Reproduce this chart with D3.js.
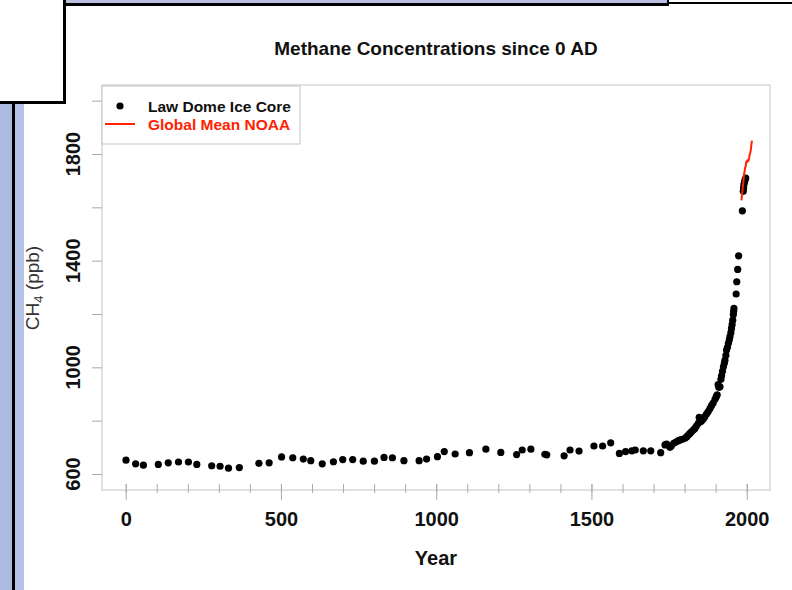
<!DOCTYPE html>
<html>
<head>
<meta charset="utf-8">
<script src="https://cdn.jsdelivr.net/npm/d3@7"></script>
<style>
  body { margin: 0; background: #fff; }
  svg { display: block; font-family: "Liberation Sans", Arial, sans-serif; }
</style>
</head>
<body>
<div id="chart"></div>
<script>
// Law Dome ice core (years AD, CH4 ppb)
const lawDomeYear = [1, 32, 57, 105, 137, 170, 202, 229, 277, 304, 331, 366, 429, 462, 502, 538, 572, 596, 633, 669,
  699, 731, 765, 801, 832, 859, 896, 945, 969, 1004, 1026, 1061, 1107, 1160, 1208, 1259, 1277, 1305, 1350, 1356,
  1412, 1431, 1460, 1508, 1536, 1562, 1590, 1610, 1630, 1641, 1667, 1691, 1723,
  1737, 1742, 1753, 1757, 1765, 1772, 1780, 1786, 1793, 1801, 1807, 1812, 1817, 1822, 1828, 1833, 1838, 1844, 1847,
  1850, 1855, 1860, 1865, 1871, 1876, 1882, 1887, 1892, 1898, 1902, 1905, 1908, 1910, 1914, 1917, 1919, 1922, 1925,
  1928, 1930, 1933, 1935, 1938, 1941, 1944, 1946, 1949, 1951, 1953, 1955, 1957, 1958, 1959, 1966, 1968, 1971, 1974,
  1986, 1989, 1990, 1991, 1993, 1995, 1997];
const lawDomeCH4 = [652, 638, 633, 636, 642, 645, 645, 636, 631, 629, 622, 624, 640, 642, 664, 661, 656, 650, 638, 646,
  654, 654, 648, 648, 662, 661, 650, 650, 656, 665, 684, 675, 680, 693, 681, 673, 690, 693, 674, 672,
  668, 690, 686, 705, 705, 717, 677, 684, 687, 690, 687, 687, 680,
  709, 712, 700, 705, 715, 720, 725, 728, 730, 734, 740, 746, 752, 758, 765, 771, 780, 790, 812,
  795, 800, 806, 815, 826, 834, 846, 857, 866, 880, 890, 897, 935, 925, 927, 955, 968, 985, 1002,
  1015, 1027, 1045, 1065, 1075, 1090, 1103, 1115, 1130, 1146, 1160, 1177, 1198, 1210, 1221, 1275, 1321, 1367, 1418,
  1587, 1660, 1672, 1685, 1695, 1703, 1710];

// NOAA global mean
const noaaYear = [1983, 1984, 1985, 1986, 1987, 1988, 1989, 1990, 1991, 1992, 1993, 1994, 1995, 1996, 1997, 1998, 1999,
  2000, 2001, 2002, 2003, 2004, 2005, 2006, 2007, 2008, 2009, 2010, 2011, 2012, 2013, 2014, 2015, 2016, 2017];
const noaaCH4 = [1626, 1636, 1651, 1659, 1670, 1683, 1693, 1705, 1717, 1729, 1732, 1743, 1749, 1752, 1755, 1768, 1772,
  1773, 1771, 1773, 1777, 1777, 1774, 1775, 1781, 1787, 1794, 1799, 1803, 1808, 1814, 1823, 1834, 1843, 1850];

const xMajor = [0, 500, 1000, 1500, 2000];
const xMinor = d3.range(0, 2001, 100);
const yTicks = [600, 800, 1000, 1200, 1400, 1600, 1800, 2000];
const yLabels = [600, 1000, 1400, 1800];

const w = 792, h = 590;
const box = { left: 102, right: 770, top: 85, bottom: 490 };

const svg = d3.select("#chart").append("svg")
  .attr("width", w)
  .attr("height", h);

// screenshot frame leftovers
svg.append("rect").attr("x", 0).attr("y", 102).attr("width", 24).attr("height", h - 102).attr("fill", "#b3c2e5");
svg.append("rect").attr("x", 0).attr("y", 102).attr("width", 12).attr("height", h - 102).attr("fill", "#abbae0");
svg.append("rect").attr("x", 12).attr("y", 102).attr("width", 3).attr("height", h - 102).attr("fill", "#000");
svg.append("rect").attr("x", 65).attr("y", 0).attr("width", 603).attr("height", 4).attr("fill", "#b9c0e0");
svg.append("rect").attr("x", 63).attr("y", 3).attr("width", 606).attr("height", 3).attr("fill", "#000");
svg.append("rect").attr("x", 667).attr("y", 0).attr("width", 2).attr("height", 5).attr("fill", "#000");
svg.append("rect").attr("x", 668).attr("y", 2).attr("width", 124).attr("height", 2).attr("fill", "#000");
svg.append("rect").attr("x", 63).attr("y", 0).attr("width", 3).attr("height", 104).attr("fill", "#000");
svg.append("rect").attr("x", 0).attr("y", 101).attr("width", 66).attr("height", 3).attr("fill", "#000");

const x = d3.scaleLinear().domain([0, 2000]).range([125.7, 746.7]);
const y = d3.scaleLinear().domain([600, 1800]).range([474, 154]);

// plot box
svg.append("rect")
  .attr("x", box.left).attr("y", box.top)
  .attr("width", box.right - box.left).attr("height", box.bottom - box.top)
  .attr("fill", "none").attr("stroke", "#c4c4c4");

// y axis: ticks outside the box
const yAxis = svg.append("g").attr("transform", `translate(${box.left},0)`)
  .call(d3.axisLeft(y).tickValues(yTicks).tickSize(10).tickFormat(""));
yAxis.select(".domain").remove();
yAxis.selectAll("line").attr("stroke", "#aaa");

svg.selectAll(".ylab").data(yLabels).enter().append("text")
  .attr("class", "ylab")
  .attr("transform", d => `translate(80,${y(d)}) rotate(-90)`)
  .attr("text-anchor", "middle")
  .attr("font-size", 20).attr("font-weight", "bold").attr("fill", "#111")
  .text(d => d);

// x axis
const xAxisMinor = svg.append("g").attr("transform", "translate(0,484)")
  .call(d3.axisBottom(x).tickValues(xMinor).tickSize(9).tickFormat(""));
xAxisMinor.select(".domain").remove();
xAxisMinor.selectAll("line").attr("stroke", "#aaa");

const xAxis = svg.append("g").attr("transform", "translate(0,484)")
  .call(d3.axisBottom(x).tickValues(xMajor).tickSize(16).tickPadding(12).tickFormat(d3.format("d")));
xAxis.select(".domain").remove();
xAxis.selectAll("line").attr("stroke", "#aaa");
xAxis.selectAll("text")
  .attr("font-size", 20).attr("font-weight", "bold").attr("fill", "#111")
  .attr("font-family", "Liberation Sans, Arial, sans-serif");

// titles
svg.append("text").attr("x", 436).attr("y", 55).attr("text-anchor", "middle")
  .attr("font-size", 19).attr("font-weight", "bold").attr("fill", "#111")
  .text("Methane Concentrations since 0 AD");

svg.append("text").attr("x", 436).attr("y", 565).attr("text-anchor", "middle")
  .attr("font-size", 20).attr("font-weight", "bold").attr("fill", "#111")
  .text("Year");

const ylab = svg.append("text")
  .attr("transform", "translate(39,288) rotate(-90)")
  .attr("text-anchor", "middle")
  .attr("font-size", 19).attr("fill", "#333");
ylab.append("tspan").text("CH");
ylab.append("tspan").attr("font-size", 13).attr("dy", 4).text("4");
ylab.append("tspan").attr("dy", -4).text(" (ppb)");

// data
svg.append("g").selectAll("circle")
  .data(lawDomeYear.map((d, i) => [d, lawDomeCH4[i]]))
  .enter().append("circle")
  .attr("cx", d => x(d[0]))
  .attr("cy", d => y(d[1]))
  .attr("r", 3.6)
  .attr("fill", "#000");

const line = d3.line().x(d => x(d[0])).y(d => y(d[1]));
svg.append("path")
  .datum(noaaYear.map((d, i) => [d, noaaCH4[i]]))
  .attr("d", line)
  .attr("fill", "none").attr("stroke", "#ff2200").attr("stroke-width", 2);

// legend
const lg = svg.append("g");
lg.append("rect").attr("x", box.left).attr("y", 86).attr("width", 198).attr("height", 58)
  .attr("fill", "#fff").attr("stroke", "#c4c4c4");
lg.append("circle").attr("cx", 120).attr("cy", 106).attr("r", 3.6).attr("fill", "#000");
lg.append("line").attr("x1", 105).attr("x2", 135).attr("y1", 124).attr("y2", 124)
  .attr("stroke", "#ff2200").attr("stroke-width", 2);
lg.append("text").attr("x", 148).attr("y", 112).attr("font-size", 15.5).attr("font-weight", "bold")
  .attr("fill", "#111").text("Law Dome Ice Core");
lg.append("text").attr("x", 148).attr("y", 130).attr("font-size", 15.5).attr("font-weight", "bold")
  .attr("fill", "#ff2200").text("Global Mean NOAA");
</script>
</body>
</html>
